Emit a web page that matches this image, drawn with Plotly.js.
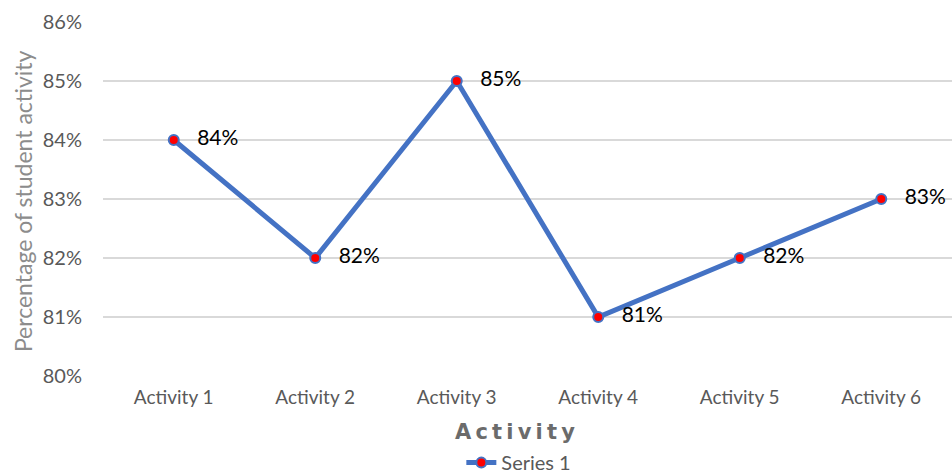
<!DOCTYPE html>
<html><head><meta charset="utf-8">
<script src="https://cdn.plot.ly/plotly-3.0.1.min.js"></script>
<style>html,body{margin:0;padding:0;background:#fff}#chart{width:952px;height:474px}</style>
</head><body><div id="chart"></div>
<script>
const categories = ["Activity 1","Activity 2","Activity 3","Activity 4","Activity 5","Activity 6"];
const values = [0.84, 0.82, 0.85, 0.81, 0.82, 0.83];
const labels = ["84%","82%","85%","81%","82%","83%"];
const yTickVals = [0.80,0.81,0.82,0.83,0.84,0.85,0.86];
const yTickText = ["80%","81%","82%","83%","84%","85%","86%"];

const trace = {
  x: categories, y: values, type: "scatter", mode: "lines+markers+text",
  name: "Series 1",
  text: labels.map(s => "   " + s), textposition: "middle right",
  textfont: {family: "Lato, sans-serif", size: 21, color: "#000"},
  line: {color: "#4472C4", width: 5},
  marker: {color: "#FF0000", size: 10, line: {color: "#4472C4", width: 2}},
  cliponaxis: false
};
const layout = {
  width: 952, height: 474,
  margin: {l: 103, r: 0, t: 22, b: 98},
  paper_bgcolor: "#fff", plot_bgcolor: "#fff",
  font: {family: "Lato, sans-serif", color: "#595959"},
  xaxis: {type: "category", range: [-0.5, 5.5], showgrid: false, zeroline: false,
    showline: false, ticks: "", ticklabelstandoff: 8, tickfont: {size: 19, color: "#595959"},
    automargin: false},
  yaxis: {range: [0.80, 0.86], tickvals: yTickVals, ticktext: yTickText,
    showgrid: true, gridcolor: "#D9D9D9", gridwidth: 1.3, zeroline: false, showline: false,
    ticks: "", ticklen: 0, ticklabelstandoff: 20, tickfont: {size: 20, color: "#595959"}, automargin: false},
  showlegend: true,
  legend: {orientation: "h", xref: "container", x: 0.545, xanchor: "center",
    yref: "container", y: 0.024, yanchor: "middle",
    font: {size: 20, color: "#595959"}},
  annotations: [
    {text: "Percentage of student activity", textangle: -90, xref: "paper", yref: "paper",
     x: -0.095, y: 0.495, xanchor: "center", yanchor: "middle", showarrow: false,
     font: {size: 23, color: "#8c8c8c"}},
    {text: "A\u2009c\u2009t\u2009i\u2009v\u2009i\u2009t\u2009y", xref: "paper", yref: "paper", x: 0.485, y: -0.158,
     xanchor: "center", yanchor: "middle", showarrow: false,
     font: {family: "DejaVu Sans", size: 21, color: "#6b6b6b", weight: "bold"}}
  ]
};
Plotly.newPlot("chart", [trace], layout, {displayModeBar: false, staticPlot: true});
</script></body></html>
